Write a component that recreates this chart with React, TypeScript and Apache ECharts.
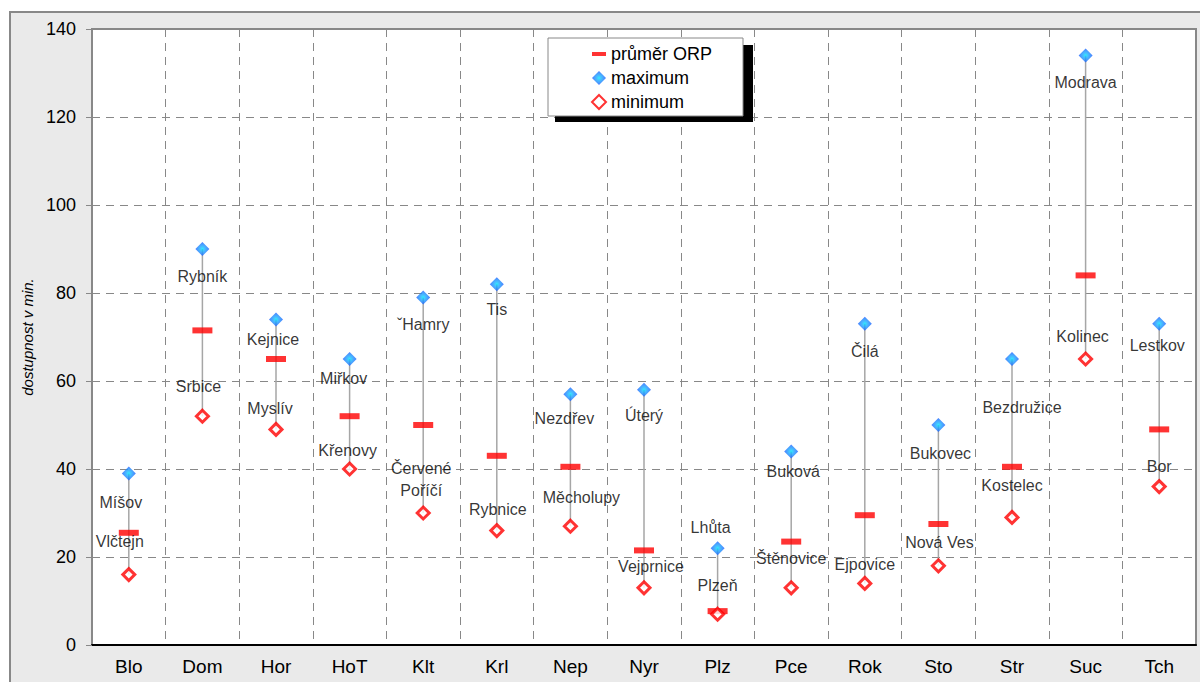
import React, { useEffect, useRef } from "react";
import * as echarts from "echarts";

const categories = ["Blo", "Dom", "Hor", "HoT", "Klt", "Krl", "Nep", "Nyr", "Plz", "Pce", "Rok", "Sto", "Str", "Suc", "Tch"];
const avgValues = [25.5, 71.5, 65, 52, 50, 43, 40.5, 21.5, 7.7, 23.5, 29.5, 27.5, 40.5, 84, 49];
const maxValues = [39, 90, 74, 65, 79, 82, 57, 58, 22, 44, 73, 50, 65, 134, 73];
const minValues = [16, 52, 49, 40, 30, 26, 27, 13, 7, 13, 14, 18, 29, 65, 36];
const maxPlaces = ["Míšov", "Rybník", "Kejnice", "Miřkov", "ˇHamry", "Tis", "Nezdřev", "Úterý", "Lhůta", "Buková", "Čilá", "Bukovec", "Bezdružice", "Modrava", "Lestkov"];
const minPlaces = ["Vlčtejn", "Srbice", "Myslív", "Křenovy", "Červené\nPoříčí", "Rybnice", "Měcholupy", "Vejprnice", "Plzeň", "Štěnovice", "Ejpovice", "Nová Ves", "Kostelec", "Kolinec", "Bor"];
const seriesNames = ["průměr ORP", "maximum", "minimum"];
const yTicks = { min: 0, max: 140, interval: 20 };

// label placement (pixel offsets from the marker), layout only
const maxLabelOffsets = [[-8, 29], [0, 27], [-3, 20], [-6, 19], [0, 27], [0, 25], [-6, 24], [0, 26], [-7, -21], [2, 20], [0, 28], [2, 28], [10, 48], [0, 27], [-2, 22]];
const minLabelOffsets = [[-9, -33], [-4, -30], [-6, -21], [-2, -19], [-2, -34], [1, -21], [11, -29], [7, -21], [0, -29], [0, -29], [0, -19], [1, -23], [0, -32], [-3, -23], [0, -20]];

const FONT = "'Liberation Sans', Arial, sans-serif";

export default function App() {
  const ref = useRef<HTMLDivElement>(null);
  useEffect(() => {
    document.body.style.margin = "0";
    if (!ref.current) return;
    const chart = echarts.init(ref.current, undefined, { renderer: "svg" });
    const labelStyle = {
      fontSize: 16, color: "#000", fontFamily: FONT, fontWeight: "normal", lineHeight: 22,
      textBorderWidth: 0, textBorderColor: "transparent", textShadowBlur: 0,
    };
    const blueGrad = {
      type: "radial", x: 0.5, y: 0.5, r: 0.5,
      colorStops: [{ offset: 0, color: "#00e8ff" }, { offset: 0.3, color: "#18b4ff" }, { offset: 1, color: "#1f5cff" }],
    };
    chart.setOption({
      animation: false,
      textStyle: { fontFamily: FONT, fontWeight: "normal" },
      grid: {
        left: 92, top: 29, right: 4, bottom: 37,
        show: true, backgroundColor: "#ffffff", borderColor: "#888", borderWidth: 2,
      },
      legend: {
        data: [
          { name: seriesNames[0], icon: "path://M0,0H14V4H0Z" },
          { name: seriesNames[1], icon: "diamond" },
          { name: seriesNames[2], icon: "diamond" },
        ],
        orient: "vertical", left: 586, top: 40, itemGap: 6, itemWidth: 14, itemHeight: 14,
        textStyle: { fontSize: 18, color: "#000", fontFamily: FONT, fontWeight: "normal" },
        z: 10, selectedMode: false,
      },
      graphic: [
        { type: "rect", z: 5, shape: { x: 555, y: 45, width: 198, height: 77 }, style: { fill: "#000" } },
        { type: "rect", z: 6, shape: { x: 548, y: 38, width: 195, height: 78 }, style: { fill: "#fff", stroke: "#888", lineWidth: 1 } },
      ],
      xAxis: {
        type: "category", data: categories, boundaryGap: true,
        axisLine: { lineStyle: { color: "#000", width: 2 } },
        axisTick: { show: false },
        axisLabel: { fontSize: 19, color: "#000", margin: 12, fontFamily: FONT, fontWeight: "normal" },
        splitLine: { show: true, interval: 0, lineStyle: { color: "#888", type: [8, 6], width: 1 } },
      },
      yAxis: {
        type: "value", min: yTicks.min, max: yTicks.max, interval: yTicks.interval,
        name: "dostupnost v min.", nameLocation: "middle", nameGap: 56, nameRotate: 90,
        nameTextStyle: { fontSize: 15, fontStyle: "italic", color: "#000", fontFamily: FONT, fontWeight: "normal" },
        axisLine: { show: true, lineStyle: { color: "#888", width: 2 } },
        axisTick: { show: true, length: 6, lineStyle: { color: "#888" } },
        axisLabel: { fontSize: 18, color: "#000", margin: 16, fontFamily: FONT, fontWeight: "normal" },
        splitLine: { show: true, lineStyle: { color: "#888", type: [8, 6], width: 1 } },
      },
      series: [
        {
          type: "custom", name: "range", silent: true, z: 1,
          data: categories.map((_, i) => [i, minValues[i], maxValues[i]]),
          encode: { x: 0, y: [1, 2] },
          renderItem: (params: any, api: any) => {
            const a = api.coord([api.value(0), api.value(1)]);
            const b = api.coord([api.value(0), api.value(2)]);
            return { type: "line", shape: { x1: a[0], y1: a[1], x2: b[0], y2: b[1] }, style: { stroke: "#a6a6a6", lineWidth: 1.5 } };
          },
        },
        {
          type: "scatter", name: seriesNames[0], symbol: "rect", symbolSize: [20, 6], z: 3,
          itemStyle: { color: "#ff0000" }, data: avgValues,
        },
        {
          type: "scatter", name: seriesNames[1], symbol: "diamond", symbolSize: 14, z: 4,
          itemStyle: { color: blueGrad as any },
          data: maxValues.map((v, i) => ({
            value: v,
            label: { show: true, position: "inside", offset: maxLabelOffsets[i], formatter: maxPlaces[i], ...labelStyle },
          })),
        },
        {
          type: "scatter", name: seriesNames[2], symbol: "diamond", symbolSize: 12, z: 5,
          itemStyle: { color: "#ffffff", borderColor: "#ff0000", borderWidth: 3 },
          data: minValues.map((v, i) => ({
            value: v,
            label: { show: true, position: "inside", offset: minLabelOffsets[i], formatter: minPlaces[i], ...labelStyle },
          })),
        },
      ],
    });
    return () => chart.dispose();
  }, []);
  return (
    <div style={{ position: "relative", width: 1200, height: 682, overflow: "hidden" }}>
      <div style={{ position: "absolute", left: 9, top: 11, width: 1200, height: 680, background: "#eaeaea", border: "2px solid #888", boxSizing: "border-box" }} />
      <div ref={ref} style={{ position: "absolute", left: 0, top: 0, width: 1200, height: 682 }} />
    </div>
  );
}
